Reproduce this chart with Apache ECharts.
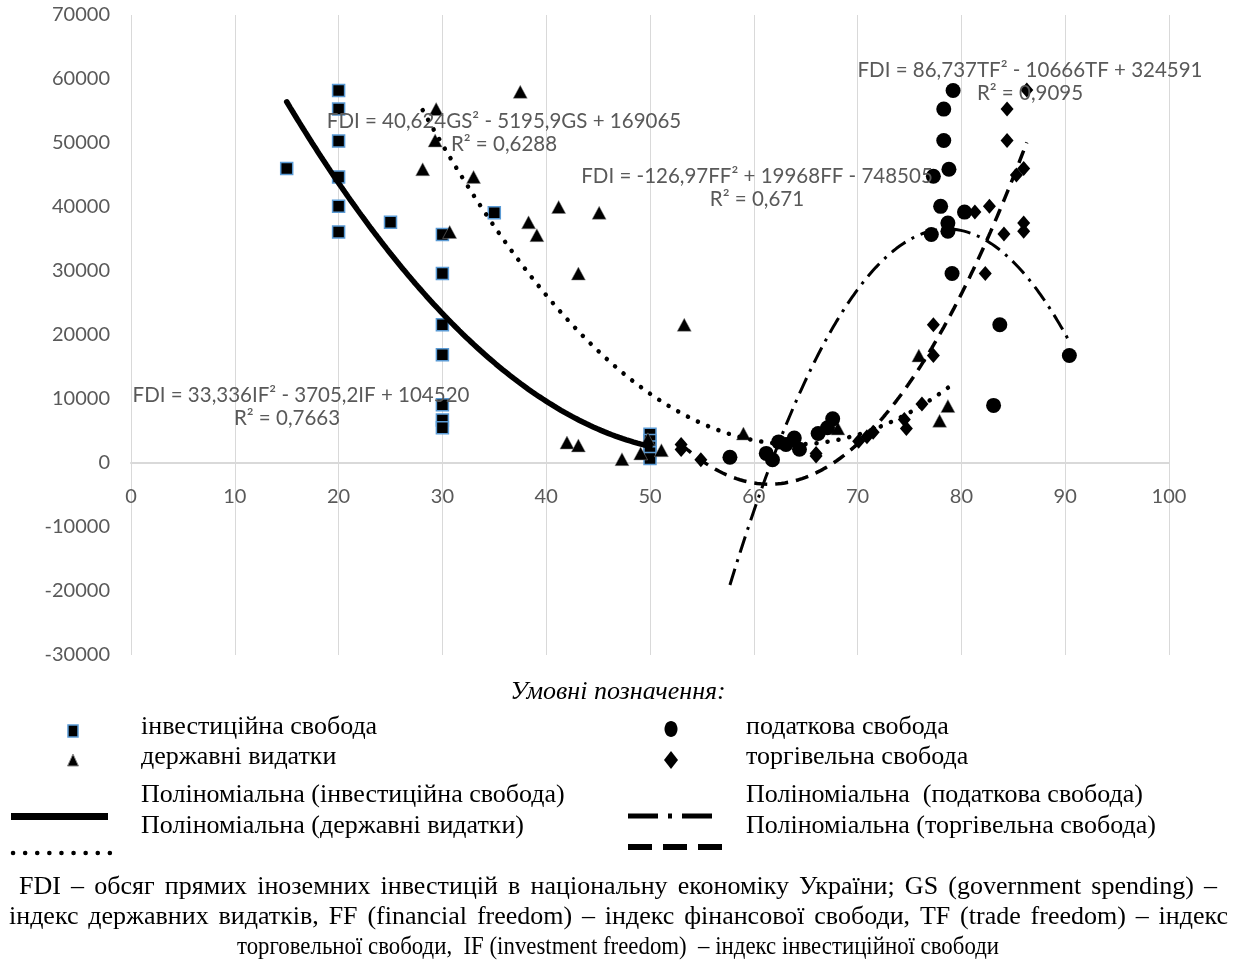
<!DOCTYPE html>
<html><head><meta charset="utf-8">
<script src="https://cdn.jsdelivr.net/npm/echarts/dist/echarts.min.js"></script>
<style>html,body{margin:0;padding:0;background:#fff}#c{width:1236px;height:960px}</style>
</head><body><div id="c"></div>
<script>
// ---- data ----
const investX = [15, 20, 20, 20, 20, 20, 20, 25, 30, 30, 30, 30, 30, 30, 30, 35, 50, 50, 50, 50, 50];
const investY = [46000, 58200, 55300, 50300, 44700, 40100, 36100, 37600, 35700, 29600, 21600, 16900, 9100, 6700, 5500, 39100, 4500, 3500, 2500, 1600, 700];

const govX = [28.1, 29.4, 29.3, 33.0, 30.7, 37.5, 41.2, 45.1, 38.3, 39.1, 43.1, 53.3, 42.0, 43.1, 47.3, 49.1, 51.1, 49.8, 59.0, 68.1, 75.9, 78.7, 77.9];
const govY = [45900, 55300, 50400, 44700, 36100, 58000, 40000, 39100, 37600, 35600, 29600, 21600, 3200, 2750, 600, 1500, 2000, 3700, 4600, 5400, 16800, 8900, 6600];

const finX = [57.7, 61.2, 61.8, 62.4, 63.1, 63.9, 64.4, 66.2, 67.1, 67.6, 77.1, 77.3, 78.0, 78.3, 78.3, 78.7, 78.7, 78.8, 79.2, 79.1, 80.3, 83.7, 83.1, 90.4];
const finY = [900, 1500, 500, 3300, 2900, 3900, 2150, 4600, 5500, 6900, 35700, 44800, 40100, 55300, 50400, 37500, 36200, 45900, 58200, 29600, 39200, 21600, 9000, 16800];

const tradeX = [53.0, 53.0, 54.9, 66.0, 66.0, 70.1, 70.9, 71.5, 74.5, 74.7, 76.2, 77.3, 77.3, 81.3, 82.3, 82.7, 84.1, 84.4, 84.4, 85.3, 86.0, 86.0, 86.0, 86.3];
const tradeY = [2900, 2100, 500, 1500, 1100, 3400, 4100, 4800, 6800, 5400, 9200, 16800, 21600, 39200, 29600, 40100, 35800, 50400, 55300, 45000, 46000, 37500, 36200, 58300];

// polynomial trendline coefficients printed on the chart [a, b, c]: a*x^2 + b*x + c
const coefIF = [33.336, -3705.2, 104520];
const coefGS = [40.624, -5195.9, 169065];
const coefFF = [-126.97, 19968, -748505];
const coefTF = [86.737, -10666, 324591];

const eqIF = ['FDI = 33,336IF² - 3705,2IF + 104520', 'R² = 0,7663'];
const eqGS = ['FDI = 40,624GS² - 5195,9GS + 169065', 'R² = 0,6288'];
const eqFF = ['FDI = -126,97FF² + 19968FF - 748505', 'R² = 0,671'];
const eqTF = ['FDI = 86,737TF² - 10666TF + 324591', 'R² = 0,9095'];

const xTicks = [0, 10, 20, 30, 40, 50, 60, 70, 80, 90, 100];
const yTicks = [-30000, -20000, -10000, 0, 10000, 20000, 30000, 40000, 50000, 60000, 70000];

const legendTitle = 'Умовні позначення:';
const legendNames = ['інвестиційна свобода', 'державні видатки', 'податкова свобода', 'торгівельна свобода'];
const trendNames = ['Поліноміальна (інвестиційна свобода)', 'Поліноміальна (державні видатки)', 'Поліноміальна  (податкова свобода)', 'Поліноміальна (торгівельна свобода)'];
const noteLines = [
  'FDI – обсяг прямих іноземних інвестицій в національну економіку України;  GS (government spending) –',
  'індекс державних видатків, FF (financial freedom) – індекс фінансової свободи, TF (trade freedom) – індекс',
  'торговельної свободи,  IF (investment freedom)  – індекс інвестиційної свободи'
];

// ---- helpers ----
const zip = (xs, ys) => xs.map((x, i) => [x, ys[i]]);
function trend(c, xs) {
  const x0 = Math.min(...xs), x1 = Math.max(...xs), n = 200, pts = [];
  for (let i = 0; i <= n; i++) { const x = x0 + (x1 - x0) * i / n; pts.push([x, c[0] * x * x + c[1] * x + c[2]]); }
  return pts;
}

const serif = "'Liberation Serif', 'Times New Roman', serif";
const LFS = 26;   // legend / footnote font size
const measureCtx = document.createElement('canvas').getContext('2d');
function justified(text, y, x0, x1, font) {
  measureCtx.font = font;
  const words = text.split(/\s+/).filter(w => w.length);
  const widths = words.map(w => measureCtx.measureText(w).width);
  const total = widths.reduce((a, b) => a + b, 0);
  const gap = (x1 - x0 - total) / (words.length - 1);
  const els = []; let x = x0;
  words.forEach((w, i) => {
    els.push({ type: 'text', x: x, y: y, style: { text: w, font: font, fill: '#000', textAlign: 'left', textVerticalAlign: 'middle' } });
    x += widths[i] + gap;
  });
  return els;
}
function fitted(text, cx, y, width, font) {
  measureCtx.font = font;
  const w = measureCtx.measureText(text).width;
  return { type: 'text', x: cx, y: y, scaleX: Math.min(1, width / w), style: { text: text, font: font, fill: '#000', textAlign: 'center', textVerticalAlign: 'middle' } };
}
function txt(t, x, y, opts) {
  return Object.assign({ type: 'text', x: x, y: y, style: Object.assign({ text: t, font: LFS + 'px ' + serif, fill: '#000', textAlign: 'left', textVerticalAlign: 'middle' }, opts || {}) });
}
const eqFont = "20.5px Lato, 'Open Sans', sans-serif";
function eq(lines, cx, y, cx2) {
  return [
    { type: 'text', x: cx, y: y, z: 50, style: { text: lines[0], font: eqFont, fill: '#595959', textAlign: 'center', textVerticalAlign: 'middle' } },
    { type: 'text', x: cx2 == null ? cx : cx2, y: y + 23, z: 50, style: { text: lines[1], font: eqFont, fill: '#595959', textAlign: 'center', textVerticalAlign: 'middle' } }
  ];
}

const NF = LFS + 'px ' + serif;
const graphics = [].concat(
  eq(eqIF, 301, 395, 287), eq(eqGS, 504, 121), eq(eqFF, 757, 176), eq(eqTF, 1030, 70),
  [
    txt(legendTitle, 618, 692, { textAlign: 'center', font: 'italic ' + LFS + 'px ' + serif }),
    // markers
    { type: 'rect', shape: { x: 68, y: 725, width: 10, height: 12 }, style: { fill: '#000', stroke: '#5B9BD5', lineWidth: 1.5 } },
    { type: 'polygon', shape: { points: [[73, 754], [78.5, 766], [67.5, 766]] }, style: { fill: '#000', stroke: '#8c8c8c', lineWidth: 1 } },
    { type: 'ellipse', shape: { cx: 671, cy: 729, rx: 6.5, ry: 8 }, style: { fill: '#000' } },
    { type: 'polygon', shape: { points: [[671, 751], [678, 760], [671, 769], [664, 760]] }, style: { fill: '#000' } },
    txt(legendNames[0], 141, 727), txt(legendNames[1], 141, 757),
    txt(legendNames[2], 746, 727), txt(legendNames[3], 746, 757),
    txt(trendNames[0], 141, 795), txt(trendNames[1], 141, 826),
    txt(trendNames[2], 746, 795), txt(trendNames[3], 746, 826),
    // line samples
    { type: 'rect', shape: { x: 11, y: 813, width: 97, height: 7 }, style: { fill: '#000' } },
    { type: 'line', shape: { x1: 628, y1: 816, x2: 720, y2: 816 }, style: { stroke: '#000', lineWidth: 5, lineDash: [30, 10, 4, 10] } },
    { type: 'line', shape: { x1: 628, y1: 847, x2: 722, y2: 847 }, style: { stroke: '#000', lineWidth: 6, lineDash: [24, 11] } },
    { type: 'line', shape: { x1: 13, y1: 853, x2: 112, y2: 853 }, style: { stroke: '#000', lineWidth: 4.5, lineCap: 'round', lineDash: [0.1, 12] } }
  ],
  justified(noteLines[0], 887, 19, 1217, NF),
  justified(noteLines[1], 917, 9, 1228, NF),
  [fitted(noteLines[2], 618, 947, 762, NF)]
);

const chart = echarts.init(document.getElementById('c'));
const tickFont = { color: '#595959', fontFamily: 'Lato', fontSize: 20, formatter: v => String(v) };
chart.setOption({
  animation: false,
  backgroundColor: '#fff',
  grid: { left: 131, right: 67, top: 15, bottom: 305, containLabel: false },
  xAxis: {
    type: 'value', min: xTicks[0], max: xTicks[xTicks.length - 1], interval: xTicks[1] - xTicks[0],
    position: 'bottom', offset: -192,
    axisLine: { show: true, onZero: false, lineStyle: { color: '#d9d9d9', width: 2 } },
    axisTick: { show: false },
    splitLine: { show: true, lineStyle: { color: '#d9d9d9', width: 1 } },
    axisLabel: Object.assign({ margin: 24 }, tickFont)
  },
  yAxis: {
    type: 'value', min: yTicks[0], max: yTicks[yTicks.length - 1], interval: yTicks[1] - yTicks[0],
    axisLine: { show: false }, axisTick: { show: false }, splitLine: { show: false },
    axisLabel: Object.assign({ margin: 21 }, tickFont)
  },
  series: [
    { type: 'scatter', name: legendNames[0], data: zip(investX, investY), symbol: 'rect', symbolSize: 12,
      itemStyle: { color: '#000', borderColor: '#5B9BD5', borderWidth: 1.5, opacity: 1 }, z: 3 },
    { type: 'scatter', name: legendNames[1], data: zip(govX, govY), symbol: 'triangle', symbolSize: [14, 13],
      itemStyle: { color: '#000', borderColor: '#8c8c8c', borderWidth: 0.5, opacity: 1 }, z: 3 },
    { type: 'scatter', name: legendNames[2], data: zip(finX, finY), symbol: 'circle', symbolSize: 15,
      itemStyle: { color: '#000', opacity: 1 }, z: 3 },
    { type: 'scatter', name: legendNames[3], data: zip(tradeX, tradeY), symbol: 'diamond', symbolSize: [13, 15],
      itemStyle: { color: '#000', opacity: 1 }, z: 3 },
    { type: 'line', name: trendNames[0], data: trend(coefIF, investX), showSymbol: false, symbol: 'none', z: 4,
      lineStyle: { color: '#000', width: 5.5, cap: 'round' } },
    { type: 'line', name: trendNames[1], data: trend(coefGS, govX), showSymbol: false, symbol: 'none', z: 4,
      lineStyle: { color: '#000', width: 4.5, type: [0.1, 11], cap: 'round' } },
    { type: 'line', name: trendNames[2], data: trend(coefFF, finX), showSymbol: false, symbol: 'none', z: 4,
      lineStyle: { color: '#000', width: 3, type: [17, 7, 3, 7] } },
    { type: 'line', name: trendNames[3], data: trend(coefTF, tradeX), showSymbol: false, symbol: 'none', z: 4,
      lineStyle: { color: '#000', width: 3.5, type: [13, 8] } }
  ],
  graphic: graphics
});
</script></body></html>
